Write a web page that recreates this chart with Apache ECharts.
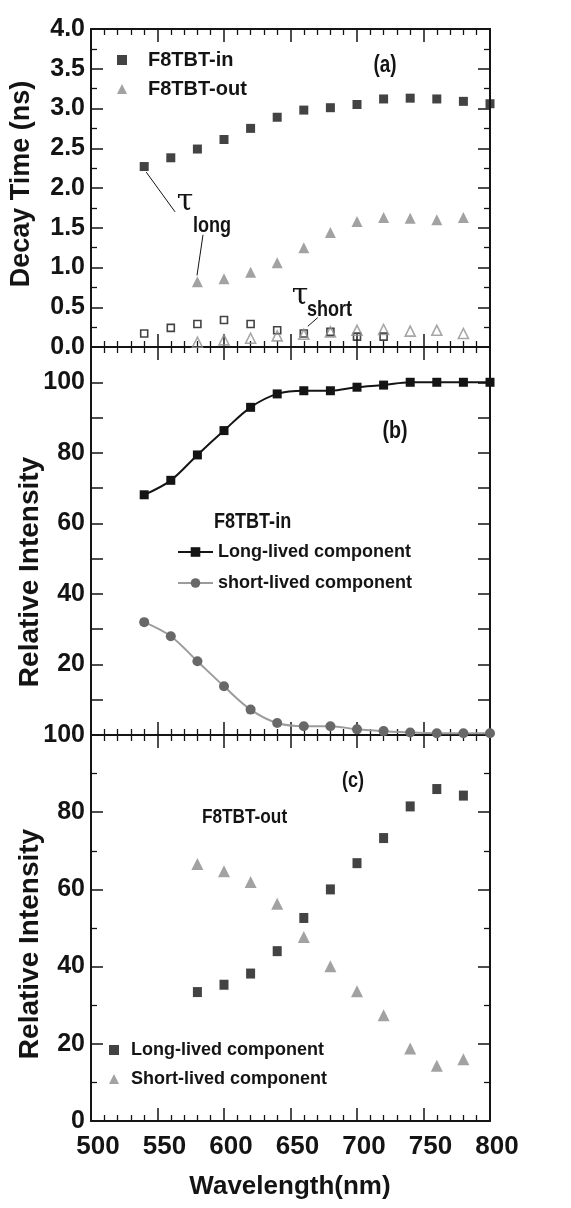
<!DOCTYPE html>
<html><head><meta charset="utf-8">
<script src="https://cdn.jsdelivr.net/npm/echarts@6/dist/echarts.min.js"></script>
<style>html,body{margin:0;padding:0;background:#fff}#c{width:571px;height:1208px}</style>
</head><body><div id="c"></div>
<script>
// ---------- data ----------
const xTicks = [500, 550, 600, 650, 700, 750, 800];
const wavelengths = [540, 560, 580, 600, 620, 640, 660, 680, 700, 720, 740, 760, 780, 800];
const tauLongIn = [2.27, 2.38, 2.49, 2.61, 2.75, 2.89, 2.98, 3.01, 3.05, 3.12, 3.13, 3.12, 3.09, 3.06];
const outWavelengths = [580, 600, 620, 640, 660, 680, 700, 720, 740, 760, 780];
const tauLongOut = [0.82, 0.86, 0.94, 1.06, 1.25, 1.44, 1.58, 1.63, 1.62, 1.60, 1.63];
const shortInWavelengths = [540, 560, 580, 600, 620, 640, 660, 680, 700, 720];
const tauShortIn = [0.17, 0.24, 0.29, 0.34, 0.29, 0.21, 0.17, 0.19, 0.13, 0.13];
const tauShortOut = [0.06, 0.09, 0.11, 0.14, 0.16, 0.19, 0.21, 0.22, 0.20, 0.21, 0.17];
const inLongLived = [68.1, 72.2, 79.4, 86.3, 92.9, 96.7, 97.6, 97.6, 98.6, 99.2, 100, 100, 100, 100];
const inShortLived = [32.0, 28.0, 20.9, 13.8, 7.2, 3.4, 2.5, 2.5, 1.6, 1.1, 0.7, 0.5, 0.5, 0.5];
const outLongLived = [33.4, 35.3, 38.2, 44.0, 52.6, 60.0, 66.8, 73.3, 81.5, 86.0, 84.3];
const outShortLived = [66.6, 64.7, 61.9, 56.3, 47.7, 40.1, 33.6, 27.4, 18.8, 14.3, 16.0];

const pairs = (xs, ys) => xs.map((x, i) => [x, ys[i]]);

// ---------- styles ----------
const FONT = "'Liberation Sans', Arial, sans-serif";
const INK = '#141414';
const GREY = '#8b8b8b';

const chart = echarts.init(document.getElementById('c'), null, {renderer: 'canvas'});

const grids = [
  {left: 91, top: 29, width: 399, height: 318},
  {left: 91, top: 347, width: 399, height: 388},
  {left: 91, top: 735, width: 399, height: 386}
];

function xAxis(g, pos, showLabel) {
  return {
    type: 'value', gridIndex: g, position: pos, min: xTicks[0], max: xTicks[xTicks.length - 1], interval: 50,
    axisLine: {show: true, onZero: false, lineStyle: {color: INK, width: 2}},
    axisTick: {show: true, inside: true, length: 13, lineStyle: {color: INK, width: 1.5}},
    minorTick: {show: true, splitNumber: 5, length: 6, lineStyle: {color: INK, width: 1.3}},
    splitLine: {show: false},
    axisLabel: {show: showLabel, fontFamily: FONT, fontWeight: 'bold', fontSize: 26, color: INK, margin: 13, padding: [0, 0, 0, 14]}
  };
}
function yAxis(g, pos, min, max, interval, minorSplit, fmt) {
  return {
    type: 'value', gridIndex: g, position: pos, min: min, max: max, interval: interval,
    axisLine: {show: true, onZero: false, lineStyle: {color: INK, width: 2}},
    axisTick: {show: true, inside: true, length: 12, lineStyle: {color: INK, width: 1.5}},
    minorTick: {show: minorSplit > 0, splitNumber: minorSplit || 2, length: 6, lineStyle: {color: INK, width: 1.3}},
    splitLine: {show: false},
    axisLabel: {show: !!fmt, formatter: fmt, fontFamily: FONT, fontWeight: 'bold', fontSize: 25, color: INK, margin: 6}
  };
}
const legendText = (size, padLeft) => ({fontFamily: FONT, fontWeight: 'bold', fontSize: size, lineHeight: size, color: INK, padding: [0, 0, 0, padLeft]});

const option = {
  animation: false,
  backgroundColor: '#fff',
  textStyle: {fontFamily: FONT},
  grid: grids,
  xAxis: [
    xAxis(0, 'bottom', false), xAxis(0, 'top', false),
    xAxis(1, 'bottom', false), xAxis(1, 'top', false),
    xAxis(2, 'bottom', true), xAxis(2, 'top', false)
  ],
  yAxis: [
    yAxis(0, 'left', 0, 4, 0.5, 2, v => v.toFixed(1)), yAxis(0, 'right', 0, 4, 0.5, 2, null),
    yAxis(1, 'left', 0, 110, 10, 0, v => (v > 0 && v <= 100 && v % 20 === 0) ? String(v) : ''), yAxis(1, 'right', 0, 110, 10, 0, null),
    yAxis(2, 'left', 0, 100, 20, 2, v => String(v)), yAxis(2, 'right', 0, 100, 20, 2, null)
  ],
  legend: [
    {
      data: ['F8TBT-in', 'F8TBT-out'], orient: 'vertical', left: 117, top: 50, padding: 0,
      itemWidth: 10, itemHeight: 10, itemGap: 9, selectedMode: false, symbolKeepAspect: true,
      textStyle: legendText(20, 16)
    },
    {
      data: ['Long-lived component', 'short-lived component'], orient: 'vertical', left: 177, top: 543, padding: 0,
      itemWidth: 35, itemHeight: 12, itemGap: 13, selectedMode: false,
      textStyle: legendText(18, 0)
    },
    {
      data: ['Long-lived component ', 'Short-lived component'], orient: 'vertical', left: 109, top: 1041, padding: 0,
      itemWidth: 10, itemHeight: 10, itemGap: 11, selectedMode: false, symbolKeepAspect: true,
      formatter: n => n.trim(),
      textStyle: legendText(18, 7)
    }
  ],
  series: [
    {name: 'F8TBT-in', type: 'scatter', xAxisIndex: 0, yAxisIndex: 0, symbol: 'rect', symbolSize: 9,
      itemStyle: {color: INK}, data: pairs(wavelengths, tauLongIn)},
    {name: 'F8TBT-out', type: 'scatter', xAxisIndex: 0, yAxisIndex: 0, symbol: 'triangle', symbolSize: 11,
      itemStyle: {color: GREY}, data: pairs(outWavelengths, tauLongOut)},
    {name: 'tau-short-in', type: 'scatter', xAxisIndex: 0, yAxisIndex: 0, symbol: 'rect', symbolSize: 7,
      itemStyle: {color: 'rgba(0,0,0,0)', borderColor: INK, borderWidth: 1.6}, data: pairs(shortInWavelengths, tauShortIn)},
    {name: 'tau-short-out', type: 'scatter', xAxisIndex: 0, yAxisIndex: 0, symbol: 'triangle', symbolSize: 10,
      itemStyle: {color: 'rgba(0,0,0,0)', borderColor: '#909090', borderWidth: 1.6}, data: pairs(outWavelengths, tauShortOut)},

    {name: 'Long-lived component', type: 'line', xAxisIndex: 2, yAxisIndex: 2, smooth: 0.35,
      symbol: 'rect', symbolSize: 9, showAllSymbol: true,
      lineStyle: {color: INK, width: 2}, itemStyle: {color: INK}, data: pairs(wavelengths, inLongLived)},
    {name: 'short-lived component', type: 'line', xAxisIndex: 2, yAxisIndex: 2, smooth: 0.35,
      symbol: 'circle', symbolSize: 10, showAllSymbol: true,
      lineStyle: {color: '#9c9c9c', width: 2}, itemStyle: {color: '#686868'}, data: pairs(wavelengths, inShortLived)},

    {name: 'Long-lived component ', type: 'scatter', xAxisIndex: 4, yAxisIndex: 4, symbol: 'rect', symbolSize: [9, 10],
      itemStyle: {color: INK}, data: pairs(outWavelengths, outLongLived)},
    {name: 'Short-lived component', type: 'scatter', xAxisIndex: 4, yAxisIndex: 4, symbol: 'triangle', symbolSize: 12,
      itemStyle: {color: GREY}, data: pairs(outWavelengths, outShortLived)}
  ]
};
chart.setOption(option);

// ---------- annotations ----------
const px = (pt) => chart.convertToPixel({xAxisIndex: 0, yAxisIndex: 0}, pt);
function seg(a, b) {
  const p = px(a), q = px(b);
  return {type: 'line', shape: {x1: p[0], y1: p[1], x2: q[0], y2: q[1]}, style: {stroke: INK, lineWidth: 1}, silent: true, z: 100};
}
function txt(x, y, text, size, align, extra) {
  return Object.assign({type: 'text', x: x, y: y, silent: true, z: 100,
    style: {text: text, fontFamily: FONT, fontWeight: 'bold', fontSize: size, fill: INK, align: align || 'left', verticalAlign: 'middle'}}, extra || {});
}
const narrow = {scaleX: 0.82};
const graphic = [
  seg([541.5, 2.20], [563.2, 1.70]),
  seg([584.2, 1.41], [579.7, 0.90]),
  seg([663, 0.26], [670.5, 0.37]),
  {type: 'text', x: 185, y: 202, silent: true, style: {text: 'τ', fontFamily: "'DejaVu Serif', serif", fontSize: 30, fill: INK, align: 'center', verticalAlign: 'middle'}},
  txt(193, 226, 'long', 22, 'left', narrow),
  {type: 'text', x: 300, y: 296, silent: true, style: {text: 'τ', fontFamily: "'DejaVu Serif', serif", fontSize: 30, fill: INK, align: 'center', verticalAlign: 'middle'}},
  txt(307, 310, 'short', 22, 'left', narrow),
  txt(385, 66, '(a)', 23, 'center', narrow),
  txt(395, 431, '(b)', 24, 'center', narrow),
  txt(353, 781, '(c)', 22, 'center', narrow),
  txt(214, 522, 'F8TBT-in', 22, 'left', narrow),
  txt(202, 817, 'F8TBT-out', 21, 'left', narrow),
  txt(22, 184, 'Decay Time (ns)', 27, 'center', {rotation: Math.PI / 2}),
  txt(30, 572, 'Relative Intensity', 28, 'center', {rotation: Math.PI / 2}),
  txt(30, 944, 'Relative Intensity', 28, 'center', {rotation: Math.PI / 2}),
  txt(290, 1187, 'Wavelength(nm)', 26, 'center')
];
chart.setOption({graphic: graphic});
</script></body></html>
